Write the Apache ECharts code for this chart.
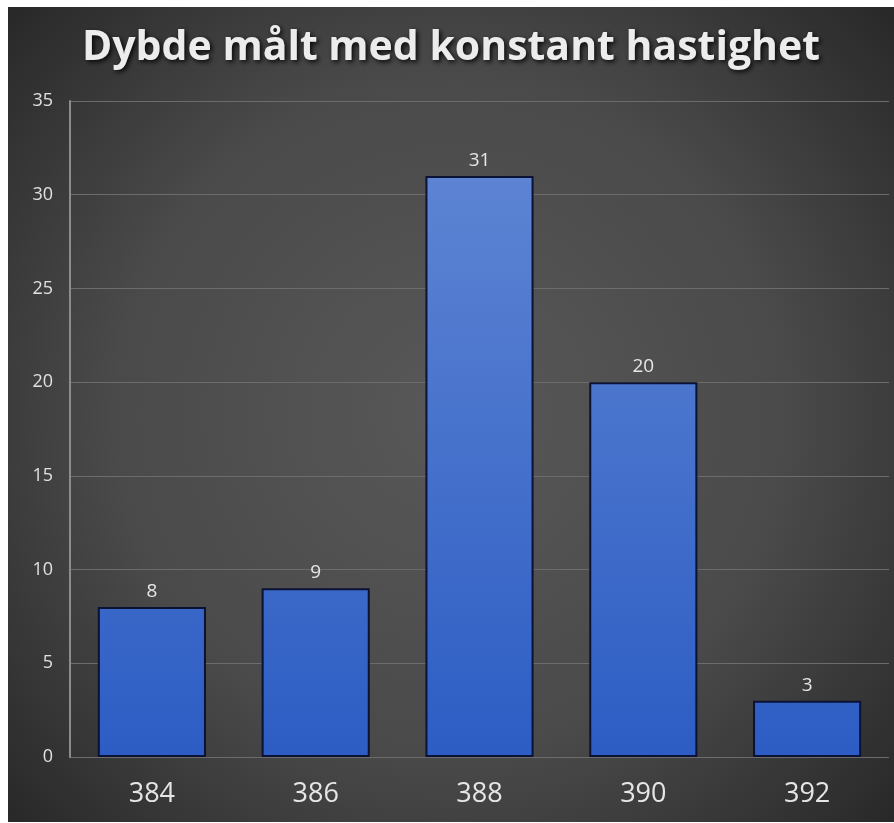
<!DOCTYPE html>
<html>
<head>
<meta charset="utf-8">
<script src="https://cdn.jsdelivr.net/npm/echarts@6/dist/echarts.min.js"></script>
<style>
  html, body { margin: 0; padding: 0; background: #ffffff; }
  #chart { position: absolute; left: 8px; top: 7px; width: 886px; height: 815px; }
</style>
</head>
<body>
<div id="chart"></div>
<script>
// Depth readings at constant speed
const categories = ['384', '386', '388', '390', '392'];
const counts = [8, 9, 31, 20, 3];
const yTicks = [0, 5, 10, 15, 20, 25, 30, 35];

const chart = echarts.init(document.getElementById('chart'));

const barFill = new echarts.graphic.LinearGradient(0, 168, 0, 750, [
  { offset: 0, color: '#5d84d3' },
  { offset: 1, color: '#2d5dc4' }
], true);

chart.setOption({
  backgroundColor: new echarts.graphic.RadialGradient(0.5, 0.5, 0.75, [
    { offset: 0, color: '#585858' },
    { offset: 0.55, color: '#4a4a4a' },
    { offset: 1, color: '#272727' }
  ]),
  animation: false,
  title: {
    text: 'Dybde målt med konstant hastighet',
    left: 'center',
    top: 16,
    textStyle: {
      color: '#ececec',
      fontFamily: 'Open Sans',
      fontWeight: 'bold',
      fontSize: 41,
      textShadowColor: 'rgba(0,0,0,0.9)',
      textShadowBlur: 5,
      textShadowOffsetX: 2,
      textShadowOffsetY: 2
    }
  },
  grid: { left: 62, right: 5, top: 94, bottom: 65 },
  xAxis: {
    type: 'category',
    data: categories,
    axisLine: { show: false },
    axisTick: { show: false },
    axisLabel: {
      color: '#e6e6e6',
      fontFamily: 'Open Sans',
      fontSize: 27,
      margin: 24
    }
  },
  yAxis: {
    type: 'value',
    min: yTicks[0],
    max: yTicks[yTicks.length - 1],
    interval: 5,
    axisLine: { show: true, lineStyle: { color: '#8c8c8c', width: 2 } },
    axisTick: { show: false },
    splitLine: { lineStyle: { color: '#6c6c6c', width: 1 } },
    axisLabel: {
      color: '#e0e0e0',
      fontFamily: 'Open Sans',
      fontSize: 18,
      margin: 17
    }
  },
  series: [{
    type: 'bar',
    data: counts,
    barCategoryGap: '34%',
    itemStyle: {
      color: barFill,
      borderColor: '#0b1233',
      borderWidth: 2
    },
    label: {
      show: true,
      position: 'top',
      distance: 6,
      color: '#e6e6e6',
      fontFamily: 'Open Sans',
      fontSize: 19
    }
  }]
});
</script>
</body>
</html>
